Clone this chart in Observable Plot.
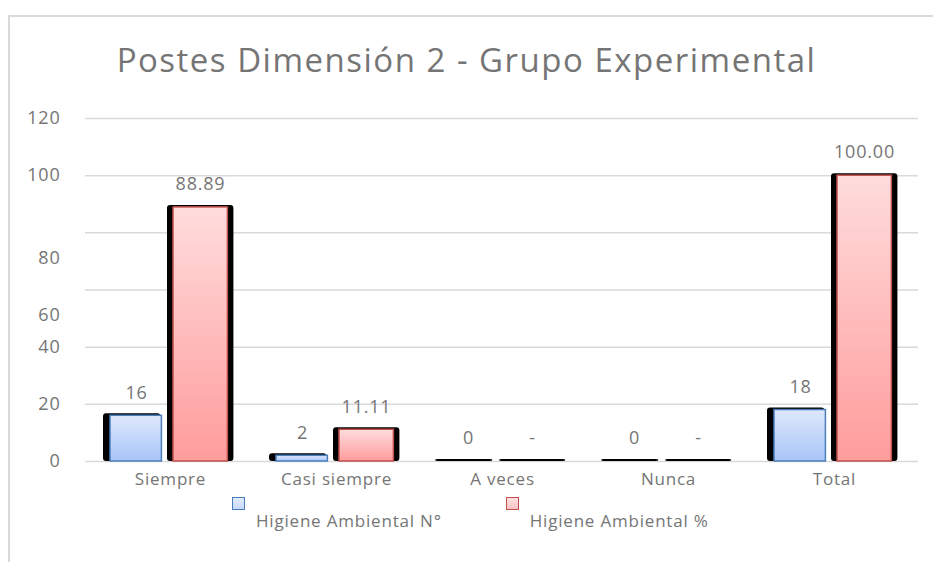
<!DOCTYPE html>
<html><head><meta charset="utf-8">
<script src="https://cdn.jsdelivr.net/npm/d3@7"></script>
<script src="https://cdn.jsdelivr.net/npm/@observablehq/plot@0.6"></script>
<style>
body{margin:0;background:#fff;font-family:"Open Sans",sans-serif;}
#wrap{position:relative;width:933px;height:562px;overflow:hidden;background:#fff;}
#frame{position:absolute;left:8px;top:15px;width:940px;height:560px;border-top:2px solid #d9d9d9;border-left:2px solid #d9d9d9;}
#title{position:absolute;top:37px;left:0;width:933px;text-align:center;font-size:33px;letter-spacing:1.5px;color:#757575;white-space:nowrap;}
#chart{position:absolute;left:0;top:0;}
#legend{position:absolute;top:509px;left:232px;font-size:17px;letter-spacing:0.8px;color:#757575;white-space:nowrap;}
.item{display:inline-block;position:relative;padding-left:24px;margin-right:64px;}
.sw{position:absolute;left:0;top:-12px;width:13px;height:13px;box-sizing:border-box;}
</style></head>
<body><div id="wrap"><div id="frame"></div><div id="chart"></div><div id="title"></div><div id="legend"></div></div>
<script>
const titleText = "Postes Dimensión 2 - Grupo Experimental";
const categories = ["Siempre","Casi siempre","A veces","Nunca","Total"];
const seriesNames = ["Higiene Ambiental  N°","Higiene Ambiental  %"];
const countValues = [16, 2, 0, 0, 18];
const percentValues = [88.89, 11.11, 0, 0, 100];
const yTicks = [0, 20, 40, 60, 80, 100, 120];

const countData = categories.map((c, i) => ({cat: c, value: countValues[i], label: String(countValues[i])}));
const pctData = categories.map((c, i) => ({cat: c, value: percentValues[i], label: percentValues[i] === 0 ? "-" : percentValues[i].toFixed(2)}));

document.getElementById("title").textContent = titleText;

const textColor = "#757575";
const chart = Plot.plot({
  width: 933, height: 500,
  marginTop: 118, marginBottom: 39, marginLeft: 85, marginRight: 15,
  style: {fontFamily: "Open Sans, sans-serif", fontSize: "18px", letterSpacing: "0.8px", color: textColor, background: "transparent", overflow: "visible"},
  x: {domain: categories, padding: 0},
  y: {domain: [0, 120]},
  marks: [
    Plot.ruleY(yTicks, {stroke: "#d9d9d9", strokeWidth: 1.5}),
    Plot.axisY(yTicks.filter(t => t !== 60 && t !== 80), {tickSize: 0, tickPadding: 25, label: null, fill: textColor, fontSize: 18}),
    Plot.axisY(yTicks.filter(t => t === 60 || t === 80), {tickSize: 0, tickPadding: 25, label: null, dy: 25, fill: textColor, fontSize: 18}),
    Plot.axisX({tickSize: 0, tickPadding: 11, label: null, fill: textColor, fontSize: 17}),
    // shadows
    Plot.barY(countData, {x: "cat", y: "value", fill: "black", insetLeft: 16, insetRight: 92.6, insetTop: -2, rx: 3}),
    Plot.barY(pctData, {x: "cat", y: "value", fill: "black", insetLeft: 80, insetRight: 19.6, insetTop: -2, rx: 3}),
    // bars
    Plot.barY(countData, {x: "cat", y: "value", fill: "url(#gBlue)", stroke: "#4a7ebb", strokeWidth: 1.5, insetLeft: 23, insetRight: 91.6}),
    Plot.barY(pctData, {x: "cat", y: "value", fill: "url(#gRed)", stroke: "#c0504d", strokeWidth: 1.5, insetLeft: 86, insetRight: 25.6}),
    // labels
    Plot.text(countData, {x: "cat", y: "value", text: "label", dx: -34, dy: -23, fill: textColor, fontSize: 18}),
    Plot.text(pctData, {x: "cat", y: "value", text: "label", dx: 30, dy: -23, fill: textColor, fontSize: 18})
  ]
});

const svg = d3.select(chart);
const defs = svg.insert("defs", ":first-child");
function grad(id, top, bottom) {
  const g = defs.append("linearGradient").attr("id", id).attr("x1", 0).attr("y1", 0).attr("x2", 0).attr("y2", 1);
  g.append("stop").attr("offset", "0%").attr("stop-color", top);
  g.append("stop").attr("offset", "100%").attr("stop-color", bottom);
}
grad("gBlue", "#dee8fc", "#a8c5f8");
grad("gRed", "#ffdcdc", "#ff9c9c");
document.getElementById("chart").appendChild(chart);

const legend = document.getElementById("legend");
const legendColors = [["#c9dafa", "#4a7ebb"], ["#ffc4c4", "#c0504d"]];
seriesNames.forEach((name, i) => {
  const item = document.createElement("span");
  item.className = "item";
  const sw = document.createElement("span");
  sw.className = "sw";
  sw.style.background = `linear-gradient(${i ? "#ffe0e0" : "#e0eafc"}, ${legendColors[i][0]})`;
  sw.style.border = `1.5px solid ${legendColors[i][1]}`;
  item.appendChild(sw);
  item.appendChild(document.createTextNode(name));
  legend.appendChild(item);
});
</script></body></html>
